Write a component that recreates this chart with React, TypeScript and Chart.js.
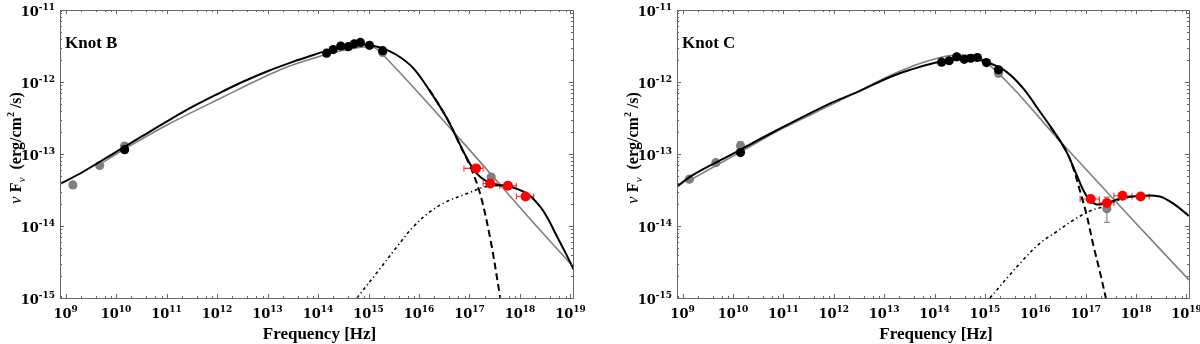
import React, { useEffect, useRef } from "react";
import { Chart, registerables } from "chart.js";

Chart.register(...registerables);

// ---------- axis ranges (log10) ----------
const X_MIN_LOG = 8.89;
const X_MAX_LOG = 19.05;
const Y_MIN_LOG = -15;
const Y_MAX_LOG = -11;

const xTickDecades = [9, 10, 11, 12, 13, 14, 15, 16, 17, 18, 19];
const yTickDecades = [-15, -14, -13, -12, -11];
const xMinorMult = [2, 4, 6, 8];
const yMinorMult = [2, 3, 4, 5, 6, 7, 8, 9];

const xTitle = "Frequency [Hz]";

// ---------- Knot B (log10 nu, log10 nuFnu) ----------
const bTotalLogNu = [8.88, 9.34, 10.0, 10.5, 11.0, 11.5, 12.0, 12.5, 13.0, 13.5, 13.91, 14.24, 14.6, 14.9, 15.23, 15.56, 15.89, 16.22, 16.55, 16.75, 16.95, 17.14, 17.34, 17.55, 17.75, 18.14, 18.4, 18.57, 18.7, 18.9, 19.06];
const bTotalLogF = [-13.42, -13.25, -12.97, -12.76, -12.55, -12.35, -12.17, -12.0, -11.85, -11.72, -11.625, -11.55, -11.5, -11.48, -11.52, -11.625, -11.81, -12.13, -12.5, -12.78, -13.06, -13.27, -13.38, -13.43, -13.44, -13.55, -13.73, -13.92, -14.1, -14.37, -14.6];

const bGrayLineLogNu = [9.66, 10.17, 11.0, 12.0, 13.25, 13.91, 14.5, 15.03, 15.23, 16.82, 18.21, 19.06];
const bGrayLineLogF = [-13.15, -12.93, -12.6, -12.25, -11.83, -11.67, -11.56, -11.51, -11.58, -12.8, -13.91, -14.57];

const bSyncLogNu = [16.2, 16.55, 16.82, 17.02, 17.21, 17.41, 17.61];
const bSyncLogF = [-12.1, -12.5, -12.89, -13.18, -13.55, -14.17, -15.0];

const bICLogNu = [14.77, 15.23, 15.56, 15.89, 16.22, 16.55, 16.95, 17.35, 17.7];
const bICLogF = [-15.0, -14.59, -14.29, -14.01, -13.8, -13.66, -13.55, -13.45, -13.44];

const bBlackLogNu = [10.17, 14.17, 14.3, 14.45, 14.6, 14.72, 14.84, 15.02, 15.28];
const bBlackLogF = [-12.94, -11.6, -11.55, -11.5, -11.51, -11.47, -11.45, -11.49, -11.565];

const bGrayLogNu = [9.145, 9.675, 10.17, 15.28, 17.43];
const bGrayLogF = [-13.43, -13.16, -12.89, -11.59, -13.32];
const bGrayErrLo: (number | null)[] = [null, null, null, null, null];
const bGrayErrHi: (number | null)[] = [null, null, null, null, null];

const bRedLogNu = [17.13, 17.41, 17.76, 18.11];
const bRedLogF = [-13.2, -13.41, -13.44, -13.59];
const bRedLoNu = [16.89, 17.27, 17.6, 17.93];
const bRedHiNu = [17.27, 17.55, 17.93, 18.27];

// ---------- Knot C ----------
const cTotalLogNu = [8.89, 9.21, 9.88, 10.87, 11.86, 12.5, 13.12, 13.52, 14.11, 14.77, 15.1, 15.43, 15.76, 16.09, 16.42, 16.62, 16.82, 16.95, 17.09, 17.22, 17.42, 17.68, 18.08, 18.47, 18.74, 19.05];
const cTotalLogF = [-13.45, -13.29, -13.04, -12.67, -12.32, -12.13, -11.93, -11.83, -11.72, -11.68, -11.74, -11.86, -12.09, -12.41, -12.74, -12.97, -13.29, -13.5, -13.65, -13.7, -13.68, -13.62, -13.58, -13.59, -13.69, -13.86];

const cGrayLineLogNu = [9.13, 10.15, 11.0, 12.0, 13.12, 13.52, 14.0, 14.44, 14.97, 16.62, 17.94, 19.05];
const cGrayLineLogF = [-13.37, -12.97, -12.64, -12.3, -11.91, -11.79, -11.68, -11.625, -11.69, -12.92, -13.92, -14.75];

const cSyncLogNu = [16.3, 16.62, 16.75, 16.89, 17.02, 17.15, 17.28, 17.4];
const cSyncLogF = [-12.62, -12.97, -13.19, -13.52, -13.85, -14.26, -14.63, -15.0];

const cICLogNu = [15.1, 15.43, 15.76, 16.09, 16.42, 16.75, 17.09, 17.35, 17.68];
const cICLogF = [-15.0, -14.73, -14.47, -14.24, -14.08, -13.92, -13.79, -13.73, -13.63];

const cBlackLogNu = [10.15, 14.14, 14.29, 14.44, 14.59, 14.72, 14.85, 15.03, 15.27];
const cBlackLogF = [-12.98, -11.725, -11.705, -11.65, -11.685, -11.67, -11.66, -11.73, -11.83];

const cGrayLogNu = [9.135, 9.66, 10.15, 15.27, 17.42];
const cGrayLogF = [-13.35, -13.12, -12.885, -11.88, -13.76];
const cGrayErrLo: (number | null)[] = [null, null, -12.94, null, -13.95];
const cGrayErrHi: (number | null)[] = [null, null, -12.83, null, -13.6];

const cRedLogNu = [17.1, 17.42, 17.73, 18.09];
const cRedLogF = [-13.625, -13.68, -13.58, -13.59];
const cRedLoNu = [16.89, 17.27, 17.56, 17.92];
const cRedHiNu = [17.27, 17.56, 17.92, 18.26];

type Panel = {
  name: string;
  chartLeft: number;
  padRight: number;
  totalNu: number[]; totalF: number[];
  grayLineNu: number[]; grayLineF: number[];
  syncNu: number[]; syncF: number[];
  icNu: number[]; icF: number[];
  blackNu: number[]; blackF: number[];
  grayNu: number[]; grayF: number[]; grayErrLo: (number | null)[]; grayErrHi: (number | null)[];
  redNu: number[]; redF: number[]; redLo: number[]; redHi: number[];
};

const panels: Panel[] = [
  {
    name: "Knot B", chartLeft: 60, padRight: 27,
    totalNu: bTotalLogNu, totalF: bTotalLogF,
    grayLineNu: bGrayLineLogNu, grayLineF: bGrayLineLogF,
    syncNu: bSyncLogNu, syncF: bSyncLogF,
    icNu: bICLogNu, icF: bICLogF,
    blackNu: bBlackLogNu, blackF: bBlackLogF,
    grayNu: bGrayLogNu, grayF: bGrayLogF, grayErrLo: bGrayErrLo, grayErrHi: bGrayErrHi,
    redNu: bRedLogNu, redF: bRedLogF, redLo: bRedLoNu, redHi: bRedHiNu,
  },
  {
    name: "Knot C", chartLeft: 77, padRight: 11,
    totalNu: cTotalLogNu, totalF: cTotalLogF,
    grayLineNu: cGrayLineLogNu, grayLineF: cGrayLineLogF,
    syncNu: cSyncLogNu, syncF: cSyncLogF,
    icNu: cICLogNu, icF: cICLogF,
    blackNu: cBlackLogNu, blackF: cBlackLogF,
    grayNu: cGrayLogNu, grayF: cGrayLogF, grayErrLo: cGrayErrLo, grayErrHi: cGrayErrHi,
    redNu: cRedLogNu, redF: cRedLogF, redLo: cRedLoNu, redHi: cRedHiNu,
  },
];

const pts = (xs: number[], ys: number[]) => xs.map((x, i) => ({ x: Math.pow(10, x), y: Math.pow(10, ys[i]) }));

const TICK_FONT = 'bold 13px "DejaVu Serif"';
const EXP_FONT = 'bold 9px "DejaVu Serif"';
const TITLE_FONT = 'bold 17px "Liberation Serif"';
const FRAME = "#666666";

function drawPow(ctx: CanvasRenderingContext2D, exp: string, x: number, baseY: number, align: "center" | "right") {
  ctx.font = TICK_FONT;
  const bw = ctx.measureText("10").width;
  ctx.font = EXP_FONT;
  const ew = ctx.measureText(exp).width;
  const tw = bw + ew;
  const start = align === "center" ? x - tw / 2 : x - tw;
  ctx.textAlign = "left";
  ctx.textBaseline = "alphabetic";
  ctx.font = TICK_FONT;
  ctx.fillText("10", start, baseY);
  ctx.font = EXP_FONT;
  ctx.fillText(exp, start + bw, baseY - 6);
}

function makeFramePlugin(p: Panel) {
  return {
    id: "sedFrame",
    afterDraw(chart: any) {
      const ctx: CanvasRenderingContext2D = chart.ctx;
      const { left, right, top, bottom } = chart.chartArea;
      const xs = chart.scales.x;
      const ys = chart.scales.y;
      ctx.save();
      ctx.strokeStyle = FRAME;
      ctx.lineWidth = 1;
      ctx.strokeRect(Math.round(left) + 0.5, Math.round(top) + 0.5, Math.round(right - left), Math.round(bottom - top));
      ctx.beginPath();
      for (let d = Math.floor(X_MIN_LOG); d <= Math.ceil(X_MAX_LOG); d++) {
        const major = Math.pow(10, d);
        if (d >= X_MIN_LOG && d <= X_MAX_LOG) {
          const px = Math.round(xs.getPixelForValue(major)) + 0.5;
          ctx.moveTo(px, bottom); ctx.lineTo(px, bottom - 4);
          ctx.moveTo(px, top); ctx.lineTo(px, top + 4);
        }
        for (const k of xMinorMult) {
          const v = k * major;
          const lv = Math.log10(v);
          if (lv <= X_MIN_LOG || lv >= X_MAX_LOG) continue;
          const px = Math.round(xs.getPixelForValue(v)) + 0.5;
          ctx.moveTo(px, bottom); ctx.lineTo(px, bottom - 2);
          ctx.moveTo(px, top); ctx.lineTo(px, top + 2);
        }
      }
      for (const d of yTickDecades) {
        const py = Math.round(ys.getPixelForValue(Math.pow(10, d))) + 0.5;
        ctx.moveTo(left, py); ctx.lineTo(left + 4, py);
        ctx.moveTo(right, py); ctx.lineTo(right - 4, py);
        if (d < Y_MAX_LOG) {
          for (const k of yMinorMult) {
            const pyy = Math.round(ys.getPixelForValue(k * Math.pow(10, d))) + 0.5;
            ctx.moveTo(left, pyy); ctx.lineTo(left + 2, pyy);
            ctx.moveTo(right, pyy); ctx.lineTo(right - 2, pyy);
          }
        }
      }
      ctx.stroke();

      ctx.fillStyle = "#000";
      for (const d of xTickDecades) {
        const px = xs.getPixelForValue(Math.pow(10, d));
        drawPow(ctx, String(d), px, 318, "center");
      }
      for (const d of yTickDecades) {
        const py = ys.getPixelForValue(Math.pow(10, d));
        drawPow(ctx, String(d), left - 5, py + 6, "right");
      }

      ctx.font = TITLE_FONT;
      ctx.textAlign = "center";
      ctx.textBaseline = "alphabetic";
      ctx.fillText(xTitle, (left + right) / 2 + 3, 339);

      ctx.save();
      ctx.translate(left - 39, 148);
      ctx.rotate(-Math.PI / 2);
      const parts: { t: string; f: string; dy: number }[] = [
        { t: "\u03BD ", f: 'italic 17px "Liberation Serif"', dy: 0 },
        { t: "F", f: 'bold 16px "Liberation Serif"', dy: 0 },
        { t: "\u03BD", f: 'italic 11px "Liberation Serif"', dy: 4 },
        { t: "  (erg/cm", f: 'bold 16px "Liberation Serif"', dy: 0 },
        { t: "2", f: 'bold 10px "Liberation Serif"', dy: -7 },
        { t: " /s)", f: 'bold 16px "Liberation Serif"', dy: 0 },
      ];
      let tw = 0;
      for (const part of parts) { ctx.font = part.f; tw += ctx.measureText(part.t).width; }
      let cx = -tw / 2;
      ctx.textAlign = "left";
      for (const part of parts) {
        ctx.font = part.f;
        ctx.fillText(part.t, cx, part.dy);
        cx += ctx.measureText(part.t).width;
      }
      ctx.restore();

      ctx.font = TITLE_FONT;
      ctx.textAlign = "left";
      ctx.fillText(p.name, left + 5, 48);
      ctx.restore();
    },
  };
}

function makeErrPlugin(p: Panel) {
  return {
    id: "sedErrors",
    beforeDatasetsDraw(chart: any) {
      const ctx: CanvasRenderingContext2D = chart.ctx;
      const xs = chart.scales.x;
      const ys = chart.scales.y;
      ctx.save();
      ctx.lineWidth = 1.2;
      ctx.strokeStyle = "rgba(255,30,30,0.9)";
      ctx.beginPath();
      p.redNu.forEach((_, i) => {
        const y = ys.getPixelForValue(Math.pow(10, p.redF[i]));
        const x0 = xs.getPixelForValue(Math.pow(10, p.redLo[i]));
        const x1 = xs.getPixelForValue(Math.pow(10, p.redHi[i]));
        ctx.moveTo(x0, y); ctx.lineTo(x1, y);
        ctx.moveTo(x0, y - 3); ctx.lineTo(x0, y + 3);
        ctx.moveTo(x1, y - 3); ctx.lineTo(x1, y + 3);
      });
      ctx.stroke();
      ctx.lineWidth = 1.2;
      ctx.strokeStyle = "#8a8a8a";
      ctx.beginPath();
      p.grayNu.forEach((nu, i) => {
        const lo = p.grayErrLo[i];
        const hi = p.grayErrHi[i];
        if (lo == null || hi == null) return;
        const x = xs.getPixelForValue(Math.pow(10, nu));
        const y0 = ys.getPixelForValue(Math.pow(10, lo));
        const y1 = ys.getPixelForValue(Math.pow(10, hi));
        ctx.moveTo(x, y0); ctx.lineTo(x, y1);
        ctx.moveTo(x - 3, y0); ctx.lineTo(x + 3, y0);
        ctx.moveTo(x - 3, y1); ctx.lineTo(x + 3, y1);
      });
      ctx.stroke();
      ctx.restore();
    },
  };
}

function makeConfig(p: Panel): any {
  const line = (data: any[], color: string, width: number, dash: number[] = []) => ({
    data, showLine: true, borderColor: color, borderWidth: width, borderDash: dash,
    pointRadius: 0, fill: false, tension: 0.35,
  });
  const marks = (data: any[], color: string, r: number) => ({
    data, showLine: false, pointRadius: r, pointBackgroundColor: color, pointBorderWidth: 0,
    borderColor: color, backgroundColor: color,
  });
  return {
    type: "scatter",
    data: {
      datasets: [
        marks(pts(p.redNu, p.redF), "#ff0000", 5),
        marks(pts(p.blackNu, p.blackF), "#000000", 4.6),
        line(pts(p.totalNu, p.totalF), "#000000", 2),
        line(pts(p.syncNu, p.syncF), "#000000", 2, [7, 4]),
        line(pts(p.icNu, p.icF), "#000000", 1.6, [3, 3, 1.2, 3]),
        line(pts(p.grayLineNu, p.grayLineF), "#7f7f7f", 1.6),
        marks(pts(p.grayNu, p.grayF), "#808080", 4.6),
      ],
    },
    options: {
      animation: false,
      responsive: false,
      events: [],
      layout: { padding: { left: 0, right: p.padRight, top: 10, bottom: 0 } },
      plugins: { legend: { display: false }, tooltip: { enabled: false } },
      scales: {
        x: {
          type: "logarithmic",
          min: Math.pow(10, X_MIN_LOG), max: Math.pow(10, X_MAX_LOG),
          grid: { display: false }, border: { display: false }, ticks: { display: false },
          afterFit: (s: any) => { s.height = 46; },
        },
        y: {
          type: "logarithmic",
          min: Math.pow(10, Y_MIN_LOG), max: Math.pow(10, Y_MAX_LOG),
          grid: { display: false }, border: { display: false }, ticks: { display: false },
          afterFit: (s: any) => { s.width = p.chartLeft; },
        },
      },
    },
    plugins: [makeErrPlugin(p), makeFramePlugin(p)],
  };
}

function SEDPanel({ panel }: { panel: Panel }) {
  const ref = useRef<HTMLCanvasElement>(null);
  useEffect(() => {
    if (!ref.current) return;
    const chart = new Chart(ref.current, makeConfig(panel));
    return () => chart.destroy();
  }, [panel]);
  return <canvas ref={ref} width={600} height={344} style={{ display: "block", width: 600, height: 344 }} />;
}

export default function App() {
  return (
    <div style={{ position: "fixed", left: 0, top: 0, width: 1200, height: 344, display: "flex", background: "#ffffff" }}>
      {panels.map((p) => (
        <SEDPanel key={p.name} panel={p} />
      ))}
    </div>
  );
}
